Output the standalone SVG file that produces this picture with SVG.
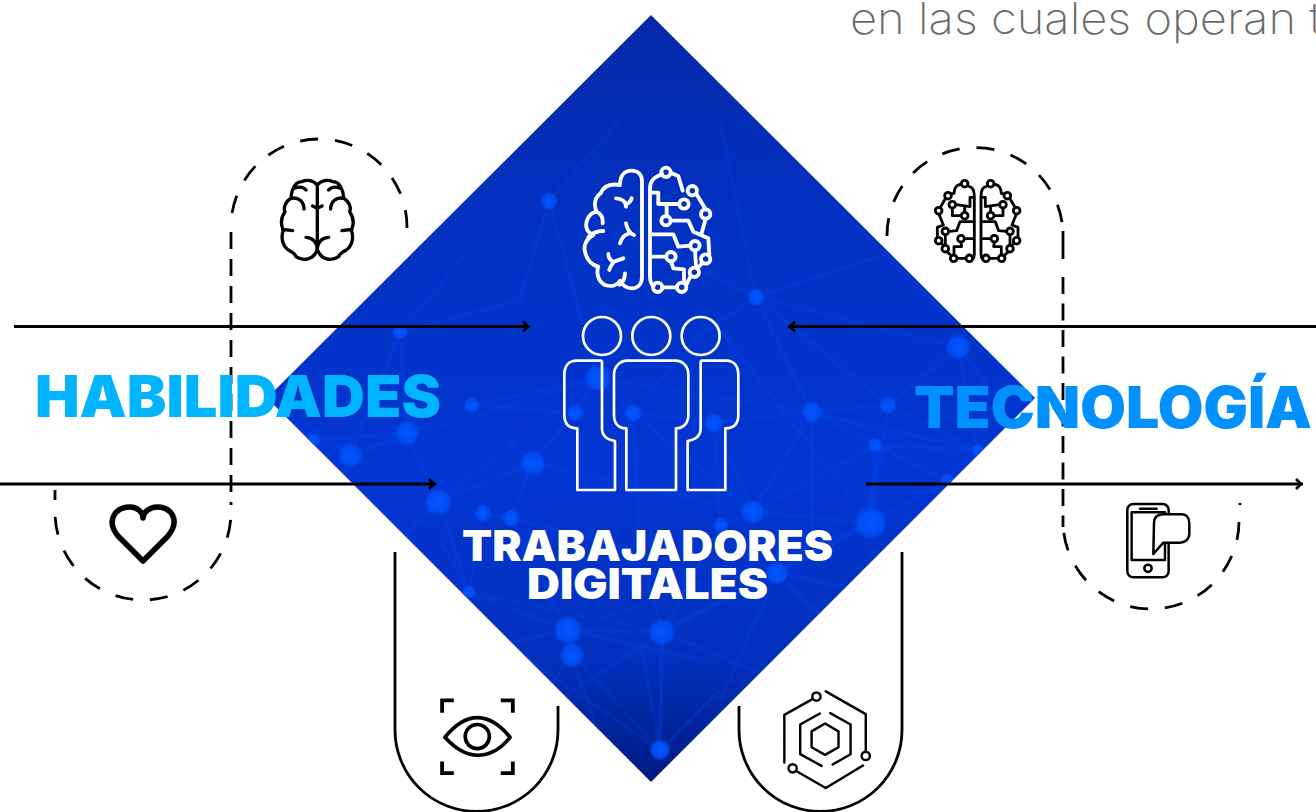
<svg xmlns="http://www.w3.org/2000/svg" xmlns:xlink="http://www.w3.org/1999/xlink" width="1316" height="812" viewBox="0 0 1316 812">
<style>
.w{fill:none;stroke:#fff;stroke-linecap:round;stroke-linejoin:round}
.k{fill:none;stroke:#000;stroke-linecap:round;stroke-linejoin:round}
.d{fill:none;stroke:#000;stroke-width:2.8;stroke-dasharray:18 17}
.t{fill:none;stroke:#000;stroke-width:2.8;stroke-dasharray:17 10}
.s{fill:none;stroke:#000;stroke-width:2.8}
.a{fill:none;stroke:#000;stroke-width:3;marker-end:url(#head)}
.n{stroke:#0c50ff;stroke-width:1.8;opacity:.34;fill:none}
.m{stroke:#0c50ff;stroke-width:3.500;opacity:.16;fill:none}
.h{font-family:Inter,"Liberation Sans",Arial,sans-serif;font-weight:900}
</style>
<defs>
<linearGradient id="bg" x1="0" y1="15" x2="0" y2="782" gradientUnits="userSpaceOnUse">
<stop offset="0" stop-color="#0628a8"/><stop offset=".3" stop-color="#0232c4"/><stop offset=".6" stop-color="#0236d2"/><stop offset=".84" stop-color="#0230bc"/><stop offset="1" stop-color="#001a80"/>
</linearGradient>
<radialGradient id="dot"><stop offset="0" stop-color="#0056ff"/><stop offset=".7" stop-color="#0050fa" stop-opacity=".88"/><stop offset="1" stop-color="#0050f5" stop-opacity="0"/></radialGradient>
<clipPath id="dc"><polygon points="651,15 1035,398 651,782 267,398"/></clipPath>
<filter id="soft" x="-10%" y="-10%" width="120%" height="120%"><feGaussianBlur stdDeviation="1.1"/></filter>
<marker id="head" markerUnits="userSpaceOnUse" markerWidth="14" markerHeight="14" refX="11.500" refY="7" orient="auto"><path d="M4.500,2 L9.500,7 L4.500,12" fill="none" stroke="#000" stroke-width="2.800"/></marker>
<g id="kbrainhalf">
<path d="M268,140 C280,142 283,155 283,170 L283,340 C283,352 280,356 278,358 M240,133 C228,136 222,145 222,160 L214,162 M195,178 L182,200 M178,225 L190,255 L172,262 L172,290 M229,194 L270,200 L270,172 L283,172 M217,206 L217,227 L242,227 M254,215 L254,198 M283,245 L240,245 L230,272 L208,274 M196,286 L196,314 M283,296 L255,296 M243,308 L245,320 L222,320 L222,343 M233,355 L256,355 M186,312 L190,316 M204,338 L212,345"/>
<circle cx="254" cy="131" r="10"/><circle cx="204" cy="167" r="10"/><circle cx="176" cy="212" r="10"/><circle cx="217" cy="194" r="10"/><circle cx="254" cy="227" r="10"/><circle cx="196" cy="274" r="10"/><circle cx="176" cy="302" r="10"/><circle cx="243" cy="296" r="10"/><circle cx="196" cy="326" r="10"/><circle cx="221" cy="355" r="10"/><circle cx="268" cy="355" r="10"/>
</g>
<g id="gbrainhalf">
<path d="M292,165 C280,150 260,148 245,155 C230,155 215,170 213,205 C195,215 190,235 195,245 C185,260 180,280 190,300 C183,320 185,345 205,360 C215,365 225,370 228,380 C250,395 280,390 292,360 M258,180 C250,170 235,170 222,175 M213,205 C235,200 252,215 252,237 M188,298 L218,302 M258,322 C275,322 292,335 292,360 M278,228 L292,235"/>
</g>
<g id="leftperson"><path d="M183,182 L110,182 C85,182 73,200 73,225 L73,345 C73,370 85,385 112,385 L112,570 L225,570 L225,423 C205,420 186,410 186,385 L186,190 C186,185 187,183 183,182 Z"/></g>
</defs>

<g id="diamond">
<polygon points="651,15 1035,398 651,782 267,398" fill="url(#bg)"/>
<g clip-path="url(#dc)">
<g filter="url(#soft)">
<path class="n" d="M438,502 L407,433 L350,455 M407,433 L472,405 L598,378 M472,405 L575,413 L633,413 M438,502 L533,463 L575,413 L598,378 M438,502 L483,513 L511,518 L533,463 M400,332 L407,433 M400,332 L350,455 M438,502 L380,560 M438,502 L469,592 M469,592 L568,630 L662,632 L777,573 M483,513 L469,592 M568,630 L572,655 L540,700 M568,630 L480,650 M511,518 L568,630 M598,378 L633,413 L714,423 L812,412 L888,405 L958,347 M756,297 L888,405 M756,297 L700,335 L633,413 M714,423 L721,525 L662,632 M812,412 L753,512 L721,525 M812,412 L812,540 L777,573 M888,405 L871,523 M875,445 L871,523 M875,445 L753,512 M875,445 L978,450 M875,445 L947,480 M888,405 L978,450 L947,480 L871,523 M958,347 L978,450 M871,523 L777,573 M871,523 L753,512 M871,523 L800,560 M662,632 L800,690 M662,632 L660,750 M660,750 L500,640 M660,750 L640,640 M660,750 L720,690 M777,573 L830,625 M633,413 L753,512 M633,413 L640,550 L662,632 M549,201 L520,300 L400,332 M549,201 L598,378 M756,297 L812,412 M313,440 L407,433 M313,440 L350,455 M511,518 L640,550 M714,423 L753,512 M662,632 L721,525 M470,250 L400,332 M620,230 L756,297 M756,297 L900,250 M958,347 L1000,400 M812,412 L978,450 M812,412 L947,480 M720,330 L871,523 M875,445 L870,520 M880,445 L866,520 M885,445 L862,520 M350,455 L300,420 M533,463 L598,378 M533,463 L470,405 M568,630 L700,660 M777,573 L860,590 M572,655 L600,740 M777,573 L720,700 M662,632 L560,700 M469,592 L440,540"/>
<path class="m" d="M598,378 L812,412 M438,502 L598,378 M756,297 L958,347 M871,523 L662,632 M662,632 L660,750 M568,630 L871,523 M350,455 L598,378 M812,412 L1000,470 M753,512 L533,463 M620,120 L549,201 M720,120 L756,297 M660,750 L560,640 M470,592 L662,632"/>
</g>
<g fill="url(#dot)">
<circle cx="400" cy="332" r="8"/><circle cx="472" cy="405" r="8"/><circle cx="407" cy="433" r="13"/><circle cx="350" cy="455" r="13"/><circle cx="313" cy="440" r="8"/><circle cx="438" cy="502" r="14"/><circle cx="483" cy="513" r="9"/><circle cx="511" cy="518" r="9"/><circle cx="533" cy="463" r="13"/><circle cx="598" cy="378" r="14"/><circle cx="575" cy="413" r="9"/><circle cx="633" cy="413" r="9"/><circle cx="568" cy="630" r="15"/><circle cx="572" cy="655" r="13"/><circle cx="469" cy="592" r="7"/><circle cx="756" cy="297" r="9"/><circle cx="958" cy="347" r="13"/><circle cx="888" cy="405" r="9"/><circle cx="812" cy="412" r="11"/><circle cx="714" cy="423" r="10"/><circle cx="875" cy="445" r="8"/><circle cx="978" cy="450" r="7"/><circle cx="947" cy="480" r="7"/><circle cx="871" cy="523" r="17"/><circle cx="753" cy="512" r="13"/><circle cx="721" cy="525" r="8"/><circle cx="777" cy="573" r="12"/><circle cx="662" cy="632" r="14"/><circle cx="549" cy="201" r="9"/><circle cx="660" cy="750" r="11"/>
</g>
</g>
</g>

<g id="connectors">
<path class="d" d="M407,228 A88,88 0 0 0 231,226"/>
<path class="t" d="M231,232 L231,505"/>
<path class="d" stroke-dashoffset="-8" d="M231,512 A88,88 0 0 1 55,512 L55,490"/>
<path class="d" d="M887,236 A88,88 0 0 1 1063,235"/>
<path class="s" stroke-dasharray="28 18 17 9.500 17 9.500 17 9.500 17 9.500 17 9.500 17 9.500 17 9.500 17 9.500 17 9.500 17 9.500 17 9.500" d="M1063,231 L1063,527"/>
<path class="d" stroke-dashoffset="-12" d="M1063,521 A88,88 0 0 0 1239,521 L1240,503"/>
<path class="s" d="M395,552 L395,730 A81.500,81.500 0 0 0 558,730 L558,706"/>
<path class="s" d="M739,706 L739,730 A81.500,81.500 0 0 0 902,730 L902,552"/>
<path class="a" d="M14,326.500 L530,326.500"/>
<path class="a" d="M1316,326.500 L788,326.500"/>
<path class="a" d="M0,484 L436,484"/>
<path class="a" d="M866,484 L1303,484"/>
</g>

<g id="header"><text x="850" y="34" font-family="Inter,Roboto,'Liberation Sans',sans-serif" font-weight="200" font-size="44" fill="#6a6a6a" textLength="472" lengthAdjust="spacingAndGlyphs">en las cuales operan t</text></g>

<g id="node-white-brain" transform="translate(540 150) scale(.3333)">
<g class="w" stroke-width="11.500">
<path d="M306,95 C306,75 295,62 275,62 C255,62 240,75 240,105 C210,100 190,110 182,130 C165,140 160,165 170,185 C145,190 135,215 140,235 C142,245 150,250 160,255 C140,265 130,285 135,305 C140,330 155,345 175,350 C168,370 175,395 195,405 C215,412 232,405 240,392 C250,410 262,415 275,415 C295,415 306,400 306,380 Z M190,243 C170,243 155,250 145,262 M170,185 C180,190 190,200 188,220 M228,145 C245,145 258,155 258,170 M275,145 C272,155 265,160 258,162 M258,220 C262,240 270,250 282,255 M240,280 C245,262 255,252 270,250 M205,312 C205,325 215,335 222,335 M250,325 L222,335 C215,345 210,350 208,360 M255,370 C255,385 248,400 238,404"/>
<path d="M366,72 L350,80 C335,88 330,100 330,115 L330,375 C330,395 335,405 341,408 M392,68 L415,78 L428,122 M471,135 L497,178 M497,206 L485,250 M335,128 L355,128 L355,162 L418,162 M380,162 L380,198 M392,212 L445,212 L460,245 L505,265 L508,313 M335,253 L400,253 L415,290 L451,287 M465,301 L468,345 M335,320 L379,320 M393,334 L400,355 L432,358 L432,398 M367,412 L411,412 M439,405 L452,378 M473,355 L488,338"/>
<circle cx="378" cy="67" r="14"/><circle cx="457" cy="122" r="14"/><circle cx="432" cy="162" r="14"/><circle cx="497" cy="192" r="14"/><circle cx="378" cy="212" r="14"/><circle cx="465" cy="287" r="14"/><circle cx="497" cy="327" r="14"/><circle cx="393" cy="320" r="14"/><circle cx="463" cy="367" r="14"/><circle cx="353" cy="412" r="14"/><circle cx="425" cy="412" r="14"/>
</g>
</g>

<g id="node-team" transform="translate(540 300) scale(.3333)">
<g class="w" stroke-width="8">
<circle cx="186" cy="108" r="57"/><circle cx="334" cy="108" r="57"/><circle cx="482" cy="108" r="57"/>
<use xlink:href="#leftperson" href="#leftperson"/>
<use xlink:href="#leftperson" href="#leftperson" transform="translate(668 0) scale(-1 1)"/>
<path d="M262,182 L405,182 C430,182 445,200 445,225 L445,345 C445,370 430,385 408,385 L408,570 L259,570 L259,385 C235,385 222,370 222,345 L222,225 C222,200 240,182 262,182 Z"/>
</g>
</g>

<g id="node-trabajadores"><text class="h" x="462" y="561" font-size="43" fill="#fff" textLength="371" lengthAdjust="spacingAndGlyphs">TRABAJADORES</text><text class="h" x="527" y="599" font-size="42" fill="#fff" textLength="241" lengthAdjust="spacingAndGlyphs">DIGITALES</text></g>

<g id="node-habilidades"><text class="h" x="35" y="417" font-size="58" fill="#00b4ff" textLength="406" lengthAdjust="spacingAndGlyphs">HABILIDADES</text></g>
<g id="node-tecnologia"><text class="h" x="914" y="428" font-size="58" fill="#0090ff" textLength="398" lengthAdjust="spacingAndGlyphs">TECNOLOGÍA</text></g>

<g id="node-organic-brain" transform="translate(220 130) scale(.3333)">
<g class="k" stroke-width="10">
<use xlink:href="#gbrainhalf" href="#gbrainhalf"/>
<use xlink:href="#gbrainhalf" href="#gbrainhalf" transform="translate(584 0) scale(-1 1)"/>
<path d="M292,165 L292,360"/>
</g>
</g>

<g id="node-digital-brain" transform="translate(880 140) scale(.3333)">
<g class="k" stroke-width="8.500">
<use xlink:href="#kbrainhalf" href="#kbrainhalf"/>
<use xlink:href="#kbrainhalf" href="#kbrainhalf" transform="translate(586 0) scale(-1 1)"/>
</g>
</g>

<g id="node-heart"><path class="k" stroke-width="5.500" d="M143,561 L118,536 C105,520 116,507 130,507 C137,507 143,512 143,518 C143,512 150,507 157,507 C171,507 181,520 168,536 Z"/></g>

<g id="node-phone" transform="translate(1050 480) scale(.3333)">
<g class="k" stroke-width="7.500">
<rect x="232" y="72" width="124" height="220" rx="18"/>
<path d="M245,97 H345 V240 H245 Z M270,86 H320"/>
<circle cx="294" cy="265" r="11"/>
<path fill="#fff" d="M310,222 L312,130 C312,110 325,103 340,103 L395,103 C410,103 418,115 418,130 L418,160 C418,178 405,188 390,188 L340,188 Z"/>
</g>
</g>

<g id="node-eye" transform="translate(380 670) scale(.345)">
<g class="k" stroke-width="10.500">
<path d="M188,195 C225,150 255,138 282,138 C310,138 345,155 377,195 C345,235 310,247 282,247 C255,247 225,235 188,195 Z"/>
<circle cx="282" cy="193" r="35"/>
<path stroke-linecap="butt" stroke-linejoin="miter" stroke-width="11" d="M214,88 H180 V124 M350,88 H385 V124 M180,265 V299 H214 M385,265 V299 H350"/>
</g>
</g>

<g id="node-hexagon" transform="translate(380 670) scale(.345)">
<g class="k" stroke-width="7">
<circle cx="1265" cy="77" r="12"/><circle cx="1408" cy="249" r="12"/><circle cx="1196" cy="285" r="12"/>
<path d="M1252,85 L1172,130 L1172,268 M1292,62 L1408,128 L1408,236 M1210,295 L1292,342 L1400,277 M1275,126 L1218,158 L1218,244 L1280,278 M1305,125 L1364,158 L1364,244 L1312,274 M1290,155 L1329,178 L1329,224 L1290,246 L1251,224 L1251,178 Z"/>
</g>
</g>
</svg>
